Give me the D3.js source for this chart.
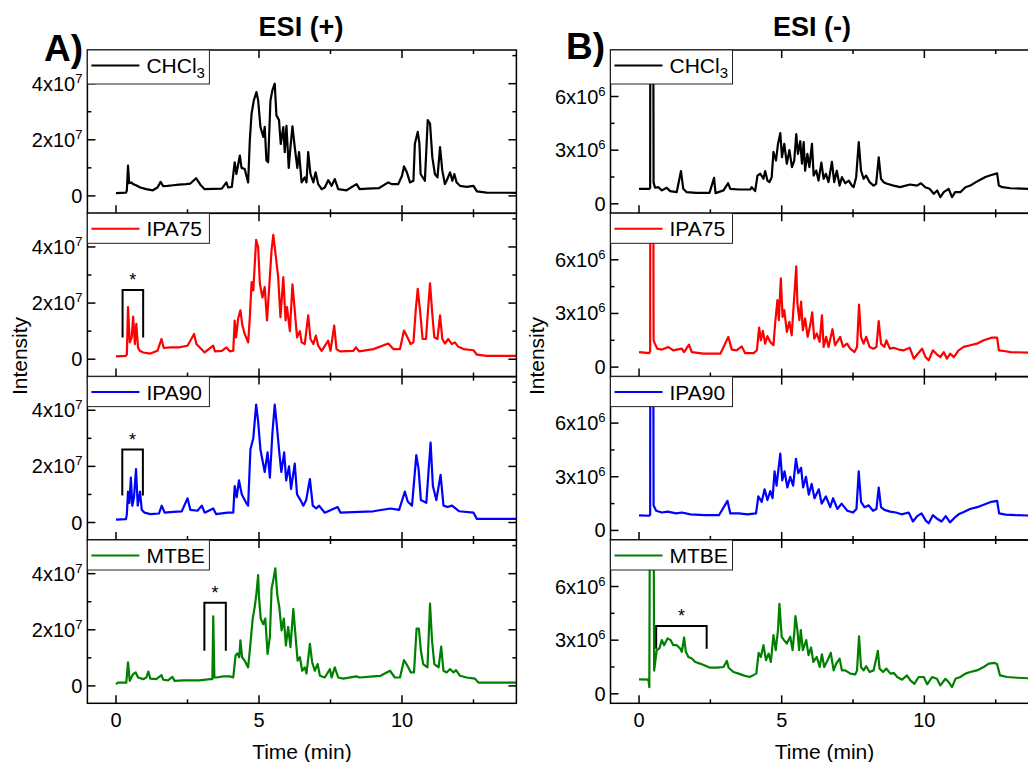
<!DOCTYPE html>
<html><head><meta charset="utf-8">
<script src="https://cdn.jsdelivr.net/npm/d3@7"></script>
<style>
body{margin:0;background:#fff}
text{font-family:"Liberation Sans",Arial,Helvetica,sans-serif;fill:#000}
</style>
</head><body>
<svg id="chart" width="1028" height="762"></svg>
<script>
// ---------------- DATA ----------------
const solvents = ["CHCl3", "IPA75", "IPA90", "MTBE"];
const solventColors = ["#000000", "#ff0000", "#0000ff", "#008000"];
const modeTitles = ["ESI (+)", "ESI (-)"];
const panelLetters = ["A)", "B)"];
const xTickMajor = [0, 5, 10];
const xTickMinor = [2.5, 7.5, 12.5];
// ESI(+) intensities in units of 1e7
const posTickMajor = [0, 2, 4];
const posTickMinor = [1, 3, 5];
const posExponent = 7;
// ESI(-) intensities in units of 1e6
const negTickMajor = [0, 3, 6];
const negTickMinor = [1.5, 4.5, 7.5];
const negExponent = 6;

// [time (min), intensity]  ESI(+) x1e7
const posCHCl3 = [[0,0.10],[0.35,0.12],[0.38,0.2],[0.42,1.08],[0.46,0.45],[0.53,0.48],[0.6,0.42],[0.7,0.38],[0.85,0.3],[1.06,0.24],[1.29,0.2],[1.45,0.3],[1.56,0.5],[1.65,0.35],[1.8,0.36],[2.0,0.38],[2.2,0.4],[2.45,0.42],[2.6,0.44],[2.8,0.63],[2.95,0.4],[3.1,0.24],[3.4,0.25],[3.7,0.26],[3.86,0.48],[3.92,0.3],[4.05,0.32],[4.15,1.2],[4.21,0.78],[4.33,1.44],[4.39,1.0],[4.5,0.96],[4.62,0.48],[4.68,2.0],[4.74,2.93],[4.82,3.41],[4.91,3.7],[4.97,3.41],[5.05,2.46],[5.15,2.1],[5.2,2.46],[5.26,1.26],[5.32,1.2],[5.4,3.4],[5.47,3.77],[5.55,4.0],[5.61,2.87],[5.7,2.7],[5.76,1.85],[5.85,2.45],[5.9,1.56],[5.96,2.5],[6.04,1.0],[6.1,1.74],[6.17,2.48],[6.25,1.74],[6.34,1.0],[6.4,1.56],[6.49,0.48],[6.6,0.66],[6.66,0.48],[6.72,1.56],[6.8,0.78],[6.9,0.48],[6.98,0.84],[7.07,0.42],[7.19,0.24],[7.3,0.3],[7.42,0.56],[7.54,0.36],[7.65,0.6],[7.77,0.24],[8.06,0.2],[8.41,0.42],[8.52,0.24],[8.8,0.26],[9.2,0.28],[9.52,0.48],[9.64,0.42],[9.87,0.42],[10.0,0.72],[10.07,1.05],[10.17,0.84],[10.28,0.48],[10.4,0.54],[10.45,1.86],[10.55,2.28],[10.61,1.86],[10.65,0.78],[10.8,0.54],[10.9,2.7],[10.98,2.58],[11.06,1.38],[11.15,0.78],[11.24,0.66],[11.33,1.74],[11.41,0.9],[11.5,0.42],[11.56,0.54],[11.68,0.84],[11.76,0.54],[11.83,0.78],[11.91,0.48],[12.03,0.36],[12.26,0.32],[12.5,0.36],[12.62,0.16],[12.96,0.12],[14,0.11]];
const posIPA75 = [[0,0.1],[0.35,0.12],[0.38,0.18],[0.42,1.86],[0.48,0.6],[0.55,0.78],[0.6,1.52],[0.66,0.54],[0.71,1.26],[0.77,0.42],[0.83,0.3],[0.95,0.24],[1.2,0.2],[1.45,0.3],[1.59,0.72],[1.67,0.4],[1.9,0.42],[2.2,0.42],[2.5,0.48],[2.73,0.9],[2.81,0.54],[2.93,0.42],[3.1,0.24],[3.4,0.48],[3.46,0.28],[3.7,0.3],[3.86,0.42],[3.98,0.28],[4.1,0.3],[4.15,1.38],[4.2,0.78],[4.27,1.44],[4.35,1.74],[4.42,1.2],[4.5,0.9],[4.62,0.6],[4.68,1.5],[4.74,2.75],[4.8,2.45],[4.9,4.25],[4.97,4.0],[5.03,2.7],[5.12,2.2],[5.2,2.57],[5.28,1.38],[5.35,2.46],[5.44,3.9],[5.5,4.43],[5.59,3.65],[5.67,2.93],[5.75,1.5],[5.85,2.93],[5.93,1.38],[5.98,1.86],[6.08,1.0],[6.17,2.67],[6.25,1.74],[6.33,0.78],[6.43,1.0],[6.49,0.6],[6.6,0.54],[6.72,1.56],[6.8,0.72],[6.9,0.54],[6.99,0.84],[7.07,0.48],[7.19,0.3],[7.42,0.66],[7.5,0.3],[7.63,1.2],[7.71,0.36],[7.83,0.28],[8.3,0.3],[8.39,0.42],[8.5,0.28],[9.0,0.36],[9.52,0.56],[9.7,0.36],[9.93,0.36],[10.07,1.02],[10.19,0.78],[10.3,0.54],[10.4,0.6],[10.48,1.74],[10.55,2.51],[10.63,1.74],[10.72,0.72],[10.84,0.72],[10.9,1.62],[10.98,2.7],[11.05,1.74],[11.13,0.78],[11.24,0.72],[11.33,1.56],[11.41,0.72],[11.5,0.56],[11.62,0.72],[11.74,0.54],[11.85,0.6],[11.97,0.44],[12.15,0.36],[12.5,0.32],[12.62,0.16],[12.96,0.12],[14,0.12]];
const posIPA90 = [[0,0.1],[0.35,0.12],[0.38,0.3],[0.42,1.1],[0.47,0.7],[0.52,1.6],[0.57,0.6],[0.63,0.9],[0.7,1.9],[0.76,0.6],[0.84,1.1],[0.9,0.45],[1.0,0.35],[1.2,0.3],[1.5,0.32],[1.6,0.6],[1.7,0.35],[2.0,0.38],[2.3,0.4],[2.5,0.86],[2.6,0.45],[2.85,0.42],[3.0,0.6],[3.1,0.35],[3.4,0.5],[3.5,0.3],[3.9,0.35],[4.1,0.35],[4.15,1.3],[4.22,0.9],[4.3,1.5],[4.4,1.0],[4.55,0.7],[4.62,0.6],[4.7,2.6],[4.8,3.0],[4.9,4.2],[4.97,3.6],[5.05,2.6],[5.2,1.8],[5.3,2.5],[5.38,1.6],[5.47,3.2],[5.55,4.2],[5.62,3.5],[5.7,2.6],[5.78,1.8],[5.88,2.5],[5.95,1.5],[6.05,2.0],[6.12,1.2],[6.25,2.1],[6.33,1.0],[6.45,0.8],[6.55,0.6],[6.65,0.8],[6.78,1.55],[6.88,0.6],[7.0,0.5],[7.1,0.6],[7.3,0.35],[7.75,0.55],[7.85,0.35],[8.5,0.38],[9.0,0.4],[9.6,0.5],[9.9,0.45],[10.1,1.1],[10.2,0.75],[10.35,0.6],[10.5,2.4],[10.58,1.9],[10.66,0.8],[10.85,0.7],[11.0,2.85],[11.08,1.3],[11.2,0.8],[11.35,1.7],[11.45,0.6],[11.6,0.55],[11.75,0.6],[12.0,0.4],[12.5,0.35],[12.62,0.13],[14,0.13]];
const posMTBE = [[0,0.06],[0.07,0.12],[0.36,0.12],[0.42,0.84],[0.48,0.18],[0.6,0.42],[0.69,0.48],[0.77,0.3],[0.95,0.24],[1.06,0.3],[1.13,0.51],[1.2,0.26],[1.41,0.24],[1.59,0.38],[1.65,0.22],[1.82,0.2],[1.97,0.32],[2.05,0.18],[2.35,0.2],[2.9,0.2],[3.3,0.24],[3.37,0.24],[3.4,2.48],[3.44,0.3],[3.52,0.3],[3.75,0.34],[3.98,0.34],[4.1,0.3],[4.18,1.08],[4.24,1.16],[4.31,1.02],[4.35,1.62],[4.41,1.02],[4.5,0.9],[4.62,0.66],[4.7,1.5],[4.78,2.4],[4.85,2.81],[4.91,3.29],[4.97,3.95],[5.0,3.17],[5.06,2.4],[5.15,2.2],[5.22,2.4],[5.3,1.14],[5.38,1.74],[5.44,3.47],[5.5,3.77],[5.57,4.19],[5.64,3.23],[5.71,2.81],[5.79,1.98],[5.87,2.4],[5.94,1.44],[6.02,2.1],[6.1,1.38],[6.2,2.75],[6.28,1.74],[6.35,0.9],[6.43,1.02],[6.51,0.54],[6.6,0.66],[6.66,0.44],[6.78,1.5],[6.86,0.84],[6.95,0.54],[7.05,0.78],[7.13,0.36],[7.3,0.3],[7.48,0.6],[7.54,0.3],[7.65,0.66],[7.77,0.3],[7.95,0.26],[8.4,0.34],[8.52,0.3],[9.0,0.34],[9.25,0.36],[9.58,0.54],[9.75,0.3],[9.93,0.3],[10.07,0.92],[10.19,0.72],[10.31,0.48],[10.42,0.48],[10.51,2.04],[10.59,2.04],[10.66,1.26],[10.74,0.78],[10.89,0.66],[10.98,2.93],[11.05,1.62],[11.13,0.78],[11.28,0.66],[11.37,1.4],[11.45,0.54],[11.56,0.48],[11.68,0.6],[11.8,0.48],[11.89,0.56],[12.03,0.36],[12.26,0.3],[12.55,0.26],[12.67,0.12],[14,0.12]];

// ESI(-) x1e6 (the solvent-front spike at ~0.4 min runs off scale)
const negCHCl3 = [[0,0.84],[0.36,0.84],[0.39,0.9],[0.40,20],[0.49,20],[0.51,1.2],[0.56,0.9],[0.68,0.93],[0.8,0.75],[0.97,0.9],[1.09,0.71],[1.32,0.65],[1.47,1.83],[1.55,0.84],[1.67,0.65],[2.0,0.61],[2.47,0.61],[2.63,1.45],[2.68,0.6],[2.96,0.75],[3.12,1.15],[3.2,0.84],[3.5,0.8],[3.9,0.8],[3.95,0.93],[4.07,0.71],[4.15,1.58],[4.25,1.68],[4.36,1.4],[4.42,1.83],[4.5,1.3],[4.57,1.21],[4.65,1.49],[4.71,2.9],[4.8,2.42],[4.87,3.35],[4.95,3.95],[5.01,2.61],[5.09,3.35],[5.18,2.24],[5.27,3.0],[5.36,2.05],[5.44,2.42],[5.51,3.9],[5.57,2.79],[5.65,3.5],[5.71,2.24],[5.77,3.45],[5.82,1.85],[5.9,2.79],[5.97,2.05],[6.06,3.35],[6.12,1.58],[6.21,1.86],[6.29,1.3],[6.39,2.3],[6.47,1.4],[6.55,1.68],[6.64,1.21],[6.76,2.35],[6.84,1.21],[6.93,1.85],[7.03,1.02],[7.11,1.49],[7.23,1.15],[7.35,1.3],[7.46,1.02],[7.52,0.93],[7.61,1.49],[7.7,3.45],[7.78,1.86],[7.87,1.4],[7.96,1.58],[8.08,1.21],[8.22,1.02],[8.31,1.12],[8.4,2.6],[8.48,1.4],[8.57,1.21],[8.69,1.12],[8.92,1.02],[9.15,0.93],[9.5,1.08],[9.74,1.02],[9.88,1.15],[10.03,0.93],[10.18,0.84],[10.33,0.56],[10.45,0.75],[10.56,0.37],[10.68,0.65],[10.85,0.84],[10.97,0.37],[11.08,0.65],[11.26,0.65],[11.44,0.93],[11.61,1.02],[11.79,1.2],[11.96,1.35],[12.14,1.5],[12.32,1.6],[12.55,1.7],[12.61,1.02],[12.73,0.93],[13.02,0.87],[14,0.82]];
const negIPA75 = [[0,0.84],[0.36,0.78],[0.39,0.9],[0.40,20],[0.49,20],[0.51,1.5],[0.56,1.3],[0.64,1.03],[0.8,0.98],[1.03,1.12],[1.2,0.94],[1.5,1.03],[1.58,0.84],[1.75,1.26],[1.85,0.84],[2.26,0.75],[2.85,0.75],[3.13,1.69],[3.25,0.98],[3.42,0.94],[3.6,1.16],[3.72,0.78],[4.02,0.78],[4.13,0.94],[4.21,2.21],[4.27,1.5],[4.34,2.03],[4.42,1.31],[4.5,1.73],[4.6,1.41],[4.71,1.22],[4.77,2.44],[4.85,3.75],[4.9,2.63],[4.97,4.97],[5.03,2.8],[5.09,3.19],[5.18,1.97],[5.27,2.53],[5.35,1.78],[5.44,3.94],[5.51,5.63],[5.55,3.56],[5.62,2.63],[5.68,3.66],[5.74,2.06],[5.82,2.72],[5.91,1.69],[6.0,2.35],[6.07,3.06],[6.14,1.59],[6.23,1.88],[6.33,1.41],[6.41,2.9],[6.47,1.13],[6.56,1.69],[6.64,1.13],[6.78,2.12],[6.87,1.22],[7.05,1.69],[7.15,1.13],[7.29,1.31],[7.4,1.03],[7.55,0.84],[7.64,1.13],[7.71,3.5],[7.78,1.69],[7.87,1.31],[7.96,1.69],[8.08,1.13],[8.22,1.03],[8.32,1.13],[8.4,2.57],[8.48,1.31],[8.6,1.13],[8.67,1.5],[8.79,1.03],[8.93,1.08],[9.1,0.98],[9.28,0.94],[9.49,1.08],[9.63,0.47],[9.77,0.75],[9.92,1.03],[10.04,0.56],[10.15,0.38],[10.3,0.94],[10.44,0.71],[10.56,0.56],[10.68,0.84],[10.79,0.47],[10.91,0.75],[11.03,0.56],[11.2,0.94],[11.38,1.13],[11.61,1.22],[11.84,1.31],[12.08,1.5],[12.37,1.65],[12.55,1.65],[12.61,0.94],[12.79,0.9],[13.02,0.84],[14,0.8]];
const negIPA90 = [[0,0.84],[0.36,0.82],[0.39,0.9],[0.40,20],[0.49,20],[0.51,1.4],[0.6,1.1],[0.8,1.0],[1.0,1.05],[1.3,0.95],[1.5,1.0],[1.8,0.9],[2.3,0.85],[2.8,0.85],[3.1,1.65],[3.2,0.95],[3.5,0.95],[3.8,0.9],[4.1,0.95],[4.18,1.9],[4.3,1.6],[4.4,2.3],[4.5,1.7],[4.6,2.2],[4.68,1.8],[4.75,3.3],[4.82,2.5],[4.95,4.3],[5.02,2.8],[5.1,3.3],[5.2,2.4],[5.3,3.0],[5.4,2.5],[5.5,4.0],[5.58,3.2],[5.68,3.5],[5.75,2.4],[5.85,3.0],[5.95,2.0],[6.05,2.6],[6.15,1.8],[6.3,2.3],[6.4,1.5],[6.55,1.9],[6.7,1.3],[6.8,1.8],[6.95,1.2],[7.1,1.5],[7.3,1.1],[7.5,1.0],[7.62,1.2],[7.7,3.3],[7.78,1.6],[7.9,1.3],[8.05,1.4],[8.2,1.1],[8.32,1.2],[8.4,2.4],[8.48,1.3],[8.6,1.15],[8.8,1.05],[9.0,1.0],[9.2,0.9],[9.45,1.0],[9.6,0.5],[9.75,0.8],[9.9,0.95],[10.05,0.55],[10.15,0.4],[10.3,0.85],[10.45,0.65],[10.6,0.5],[10.75,0.8],[10.9,0.45],[11.05,0.7],[11.2,0.9],[11.4,1.05],[11.6,1.2],[11.85,1.3],[12.1,1.45],[12.35,1.6],[12.55,1.65],[12.62,0.95],[12.85,0.88],[13.2,0.85],[14,0.82]];
const negMTBE = [[0,0.81],[0.33,0.79],[0.36,0.37],[0.40,20],[0.49,20],[0.53,1.3],[0.62,2.44],[0.71,2.53],[0.8,3.0],[0.88,2.72],[1.0,3.1],[1.11,3.0],[1.2,2.72],[1.32,2.72],[1.44,2.53],[1.5,2.35],[1.58,3.15],[1.64,2.35],[1.73,2.06],[1.85,1.97],[1.97,1.78],[2.14,1.69],[2.49,1.46],[2.73,1.46],[2.96,1.5],[3.08,1.84],[3.14,1.46],[3.31,1.22],[3.49,1.13],[3.66,1.03],[3.87,0.94],[3.99,1.03],[4.11,1.13],[4.19,2.29],[4.27,2.06],[4.36,2.72],[4.45,1.88],[4.54,2.25],[4.62,1.78],[4.71,3.28],[4.79,2.44],[4.87,3.56],[4.92,5.03],[5.0,3.19],[5.08,3.0],[5.18,2.81],[5.3,3.19],[5.38,2.44],[5.44,3.38],[5.48,4.35],[5.55,3.56],[5.61,2.44],[5.67,3.56],[5.74,2.44],[5.86,3.0],[5.94,2.16],[6.03,2.59],[6.11,1.78],[6.23,2.06],[6.33,1.5],[6.41,2.21],[6.49,1.5],[6.61,1.88],[6.72,2.29],[6.82,1.31],[6.91,1.69],[7.03,1.97],[7.11,1.31],[7.23,1.31],[7.41,1.13],[7.58,1.09],[7.64,1.31],[7.71,3.22],[7.78,1.5],[7.87,1.31],[7.96,1.54],[8.08,1.22],[8.22,1.31],[8.37,2.4],[8.43,1.41],[8.55,1.22],[8.67,1.41],[8.81,1.13],[8.93,1.16],[9.05,0.94],[9.22,0.79],[9.39,1.03],[9.51,0.75],[9.65,0.56],[9.8,0.94],[9.98,0.94],[10.1,0.53],[10.27,0.94],[10.44,0.84],[10.56,0.47],[10.74,0.84],[10.85,0.66],[10.97,0.37],[11.09,0.84],[11.26,0.94],[11.44,1.13],[11.61,1.22],[11.84,1.31],[12.08,1.5],[12.26,1.69],[12.46,1.73],[12.55,1.65],[12.65,1.03],[12.9,0.94],[13.25,0.9],[14,0.84]];

// "*" brackets: column, panel, start/end time, top and leg-end intensity
const bracketCol = [0, 0, 0, 1];
const bracketPanel = [1, 2, 3, 3];
const bracketT0 = [0.23, 0.22, 3.09, 0.6];
const bracketT1 = [0.95, 0.94, 3.84, 2.37];
const bracketTop = [2.47, 2.6, 2.96, 3.79];
const bracketLeg = [0.77, 0.96, 1.25, 2.52];

// ---------------- LAYOUT ----------------
const svg = d3.select("#chart");
const panelTops = [50, 213.3, 376.6, 540];
const panelH = 163.3;
const colX = [[87.4, 516.4], [610.5, 1038.5]];
const yDomains = [[-0.62, 5.2], [-0.53, 8.6]];
const series = [[posCHCl3, posIPA75, posIPA90, posMTBE], [negCHCl3, negIPA75, negIPA90, negMTBE]];
const tickMajor = [posTickMajor, negTickMajor];
const tickMinor = [posTickMinor, negTickMinor];
const exps = [posExponent, negExponent];
const FONT = 20;

const defs = svg.append("defs");

function addPowLabel(sel, v, e) {
  if (v === 0) { sel.text("0"); return; }
  sel.append("tspan").text(v + "x10");
  sel.append("tspan").attr("dy", -8).attr("font-size", 13).text(e);
}

for (let c = 0; c < 2; c++) {
  const [x0, x1] = colX[c];
  const x = d3.scaleLinear().domain([-1, 14]).range([x0, x1]);
  for (let p = 0; p < 4; p++) {
    const top = panelTops[p], bot = top + panelH;
    const y = d3.scaleLinear().domain(yDomains[c]).range([bot, top]);
    const g = svg.append("g");
    const cid = `clip${c}${p}`;
    defs.append("clipPath").attr("id", cid).append("rect")
      .attr("x", x0).attr("y", top).attr("width", x1 - x0).attr("height", panelH);

    // trace
    const line = d3.line().x(d => x(d[0])).y(d => y(d[1]));
    g.append("path").datum(series[c][p])
      .attr("clip-path", `url(#${cid})`)
      .attr("d", line).attr("fill", "none")
      .attr("stroke", solventColors[p]).attr("stroke-width", 2.2)
      .attr("stroke-linejoin", "round");

    // ticks (inward on all sides)
    const tg = g.append("g").attr("stroke", "#000").attr("stroke-width", 1.5);
    const xt = xTickMajor.map(v => [v, 8]).concat(xTickMinor.map(v => [v, 4]));
    xt.forEach(([v, len]) => {
      tg.append("line").attr("x1", x(v)).attr("x2", x(v)).attr("y1", bot).attr("y2", bot - len);
      tg.append("line").attr("x1", x(v)).attr("x2", x(v)).attr("y1", top).attr("y2", top + len);
    });
    const yt = tickMajor[c].map(v => [v, 8]).concat(tickMinor[c].map(v => [v, 4]));
    yt.forEach(([v, len]) => {
      tg.append("line").attr("x1", x0).attr("x2", x0 + len).attr("y1", y(v)).attr("y2", y(v));
      tg.append("line").attr("x1", x1).attr("x2", x1 - len).attr("y1", y(v)).attr("y2", y(v));
    });

    // y tick labels
    tickMajor[c].forEach(v => {
      const t = g.append("text").attr("x", x0 - 5).attr("y", y(v) + 7)
        .attr("text-anchor", "end").attr("font-size", FONT);
      addPowLabel(t, v, exps[c]);
    });

    // frame
    g.append("rect").attr("x", x0).attr("y", top).attr("width", x1 - x0).attr("height", panelH)
      .attr("fill", "none").attr("stroke", "#000").attr("stroke-width", 1.5);

    // legend
    const lh = p === 0 ? 34 : 30;
    const lg = g.append("g");
    lg.append("rect").attr("x", x0).attr("y", top).attr("width", 122).attr("height", lh)
      .attr("fill", "#fff").attr("stroke", "#222").attr("stroke-width", 1);
    const my = top + 15.5;
    lg.append("line").attr("x1", x0 + 4).attr("x2", x0 + 52).attr("y1", my).attr("y2", my)
      .attr("stroke", solventColors[p]).attr("stroke-width", 2);
    const lt = lg.append("text").attr("x", x0 + 59).attr("y", my + 7.5).attr("font-size", 21);
    if (solvents[p] === "CHCl3") {
      lt.append("tspan").text("CHCl");
      lt.append("tspan").attr("dy", 5).attr("font-size", 15).text("3");
    } else lt.text(solvents[p]);

    // bottom axis labels
    if (p === 3) {
      xTickMajor.forEach(v => {
        g.append("text").attr("x", x(v)).attr("y", bot + 24).attr("text-anchor", "middle")
          .attr("font-size", FONT).text(v);
      });
      g.append("text").attr("x", (x0 + x1) / 2).attr("y", bot + 56).attr("text-anchor", "middle")
        .attr("font-size", 21).text("Time (min)");
    }

    // brackets
    for (let b = 0; b < bracketCol.length; b++) {
      if (bracketCol[b] !== c || bracketPanel[b] !== p) continue;
      const bx0 = x(bracketT0[b]), bx1 = x(bracketT1[b]);
      const by = y(bracketTop[b]), bl = y(bracketLeg[b]);
      g.append("path").attr("d", `M${bx0},${bl}V${by}H${bx1}V${bl}`)
        .attr("fill", "none").attr("stroke", "#000").attr("stroke-width", 2);
      g.append("text").attr("x", (bx0 + bx1) / 2).attr("y", by - 4).attr("text-anchor", "middle")
        .attr("font-size", 18).text("*");
    }
  }
  // column titles
  svg.append("text").attr("x", c === 0 ? 301 : 812).attr("y", 36).attr("text-anchor", "middle")
    .attr("font-size", 27).attr("font-weight", "bold").text(modeTitles[c]);
  svg.append("text").attr("x", c === 0 ? 44 : 566).attr("y", c === 0 ? 61 : 59)
    .attr("font-size", 37).attr("font-weight", "bold").text(panelLetters[c]);
  svg.append("text").attr("transform", `translate(${c === 0 ? 26.5 : 544},356) rotate(-90)`)
    .attr("text-anchor", "middle").attr("font-size", 21).text("Intensity");
}
</script>
</body></html>
